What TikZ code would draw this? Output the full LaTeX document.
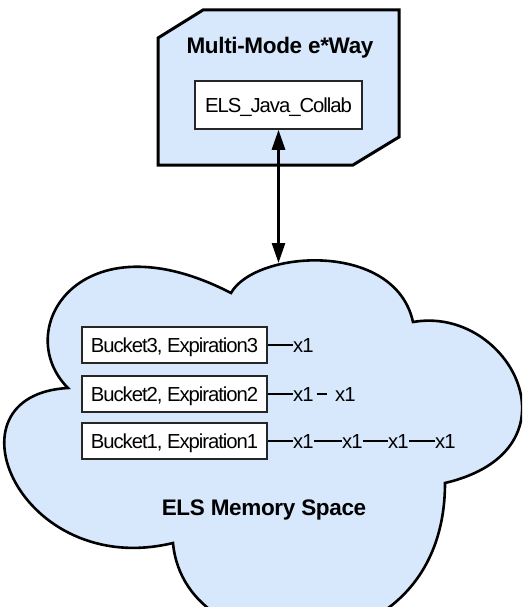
\documentclass[tikz,border=0pt]{standalone}
\usepackage{fontspec}
\setmainfont{Liberation Sans}
\newfontfamily\tightfont[LetterSpace=-5.2]{Liberation Sans}
\newfontfamily\titlefont[LetterSpace=-1.5]{Liberation Sans Bold}
\usetikzlibrary{arrows.meta}
\definecolor{cloudblue}{RGB}{215,232,252}
\begin{document}
\begin{tikzpicture}[x=1pt,y=-1pt,
  shell/.style={draw=black, line width=3pt, fill=cloudblue, line join=miter},
  cloudline/.style={draw=black, line width=2.6pt, fill=cloudblue},
  boxed/.style={draw=black!85, line width=1.5pt, fill=white, inner sep=0pt,
    font=\tightfont\fontsize{20.3}{21}\selectfont, text height=14.5pt, text depth=0pt},
  item/.style={inner sep=0pt, anchor=west,
    font=\tightfont\fontsize{20.3}{21}\selectfont, text height=14.5pt, text depth=0pt},
  heading/.style={inner sep=0pt, font=\titlefont\fontsize{22.5}{24}\selectfont},
  link/.style={draw=black, line width=1.3pt},
  biarrow/.style={draw=black, line width=2.8pt, {Triangle[length=20pt,width=13pt]}-{Triangle[length=20pt,width=13pt]}}]
\useasboundingbox (0,0) rectangle (522,607);
\clip (0,0) rectangle (522,607);
% top e*Way box
\draw[shell] (203,10) -- (399,10) -- (399,137) -- (353,165) -- (158,165) -- (158,38) -- cycle;
\node[heading, anchor=base] (title) at (280,54) {Multi-Mode e*Way};
\node[boxed, minimum width=167pt, minimum height=48pt] (java) at (278.5,105) {ELS\_Java\_Collab};
% cloud
\draw[cloudline] (231,293) .. controls (255,250) and (395,240) .. (413,322)
  .. controls (510,305) and (585,450) .. (445,483)
  .. controls (445,680) and (185,675) .. (173,543)
  .. controls (20,580) and (-60,395) .. (68,388)
  .. controls (10,330) and (80,215) .. (231,293) -- cycle;
\coordinate (cloudtop) at (278.5,263);
\node[heading] (space) at (264,510) {ELS Memory Space};
% buckets
\node[boxed, minimum width=185pt, minimum height=36pt] (b3) at (174.5,345) {Bucket3, Expiration3};
\node[boxed, minimum width=185pt, minimum height=36pt] (b2) at (174.5,394) {Bucket2, Expiration2};
\node[boxed, minimum width=185pt, minimum height=36pt] (b1) at (174.5,441) {Bucket1, Expiration1};
% items
\node[item] (r3a) at (293,345) {x1};
\node[item] (r2a) at (293,394) {x1};
\node[item] (r2b) at (335,394) {x1};
\node[item] (r1a) at (293,441) {x1};
\node[item] (r1b) at (342,441) {x1};
\node[item] (r1c) at (388,441) {x1};
\node[item] (r1d) at (435,441) {x1};
\draw[link] (b3.east) -- (r3a.west);
\draw[link] (b2.east) -- (r2a.west);
\draw[link] ([xshift=3pt]r2a.east) -- ([xshift=-8pt]r2b.west);
\draw[link] (b1.east) -- (r1a.west);
\draw[link] (r1a.east) -- (r1b.west);
\draw[link] (r1b.east) -- (r1c.west);
\draw[link] (r1c.east) -- (r1d.west);
% arrow
\draw[biarrow] (java.south) -- (cloudtop);
\end{tikzpicture}
\end{document}
